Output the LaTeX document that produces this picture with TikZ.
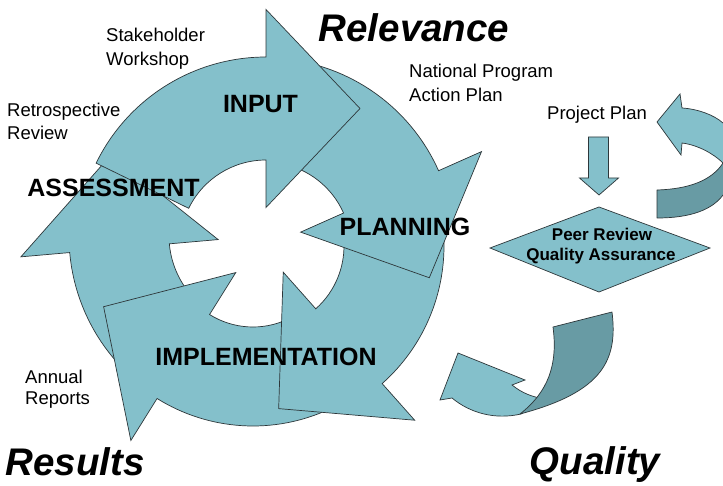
\documentclass[tikz,border=0pt]{standalone}
\usepackage{fontspec}
\setmainfont{Liberation Sans}
\definecolor{tealA}{RGB}{132,192,203}
\definecolor{tealB}{RGB}{104,155,164}
\definecolor{edgeC}{RGB}{45,55,58}
\tikzset{
  ring/.style={fill=tealA, draw=edgeC, line width=0.7pt, line join=miter},
  shade3d/.style={fill=tealB, draw=edgeC, line width=0.7pt, line join=round},
  bigword/.style={font=\fontsize{38.5}{40}\selectfont\bfseries\itshape, inner sep=0pt, anchor=base},
  phase/.style={font=\fontsize{25}{27}\selectfont\bfseries, inner sep=0pt, anchor=base},
  note/.style={font=\fontsize{18.5}{23}\selectfont, inner sep=0pt, anchor=base west},
  dtext/.style={font=\fontsize{17}{20}\selectfont\bfseries, inner sep=0pt, anchor=base}
}
% #1,#2 centre (image px), #3 inner r, #4 outer r, #5 tail angle, #6 head angle (clockwise on screen)
\newcommand\cycarrow[6]{%
  \pgfmathsetmacro\rmid{(#3+#4)/2}%
  \pgfmathsetmacro\rtip{veclen(\rmid,94)}%
  \pgfmathsetmacro\atip{-((#6)+atan(94/\rmid))}%
  \pgfmathsetmacro\wext{(198-(#4-#3))/2}%
  \pgfmathsetmacro\rin{#3-\wext}%
  \pgfmathsetmacro\rout{#4+\wext}%
  \pgfmathsetmacro\at{-(#5)}%
  \pgfmathsetmacro\ah{-(#6)}%
  \path[ring,shift={(#1,#2)}] (\at:#4pt) arc[start angle=\at,end angle=\ah,radius=#4pt]
    -- (\ah:\rout pt) -- (\atip:\rtip pt) -- (\ah:\rin pt) -- (\ah:#3pt)
    arc[start angle=\ah,end angle=\at,radius=#3pt] -- cycle;
}
\begin{document}
\begin{tikzpicture}[x=1pt,y=-1pt]
\useasboundingbox (0,0) rectangle (723,486);
\fill[white] (0,0) rectangle (723,486);
\begin{scope}
\clip (0,0) rectangle (723,486);
% cycle arrows (bottom-most first)
\cycarrow{259}{236}{90}{190}{135}{175}
\cycarrow{253}{245}{82}{181}{65}{122}
\cycarrow{260}{246}{84}{184}{-5}{48.4}
\cycarrow{265}{248}{86}{190}{-80}{-24}
\cycarrow{266}{246}{86}{189}{-154}{-90}
% top-right curved arrow
\path[shade3d] (657,190) .. controls (690,189) and (712,180) .. (723,163) -- (735,150) -- (735,200) -- (723,195) .. controls (712,210) and (690,218) .. (657,218) -- cycle;
\path[ring] (657,122) -- (680,94) -- (682,108) .. controls (698,109) and (714,115) .. (723,123) -- (735,130) -- (735,170) -- (723,163) .. controls (714,154) and (698,145) .. (682,143) -- (681,155) -- cycle;
% down block arrow
\path[ring] (588.5,137) -- (608.5,137) -- (608.5,178) -- (618.5,178) -- (599,195) -- (579.5,178) -- (588.5,178) -- cycle;
% diamond
\path[ring] (599,207) -- (710,248) -- (599,292) -- (490,248) -- cycle;
% bottom curved arrow
\path[ring] (440,400) -- (458,353) -- (525,380) -- (512,385) .. controls (522,393) and (532,397) .. (545,399) -- (521,414) .. controls (495,420) and (470,413) .. (452,398) -- cycle;
\path[shade3d] (553,327) -- (612,312) .. controls (618,360) and (603,392) .. (520,414) .. controls (548,392) and (558,365) .. (553,327) -- cycle;
\end{scope}
% titles
\node[bigword] (rel) at (414,41.7) {Relevance};
\node[bigword] (res) at (75,475) {Results};
\node[bigword] (qual) at (595,474) {Quality};
% phase labels
\node[phase] (input) at (260.5,113) {INPUT};
\node[phase] (assess) at (113.5,197) {ASSESSMENT};
\node[phase] (plan) at (405,236) {PLANNING};
\node[phase] (impl) at (266,366) {IMPLEMENTATION};
% notes
\node[note] (sh1) at (106,41.7) {Stakeholder};
\node[note] (sh2) at (106,66) {Workshop};
\node[note] (rr1) at (7,117) {Retrospective};
\node[note] (rr2) at (7,140) {Review};
\node[note] (np1) at (409,77.5) {National Program};
\node[note] (np2) at (409,101.5) {Action Plan};
\node[note] (pp) at (547,120) {Project Plan};
\node[note] (ar1) at (25,383) {Annual};
\node[note] (ar2) at (25,404.5) {Reports};
% diamond text
\node[dtext] (peer1) at (602,241) {Peer Review};
\node[dtext] (peer2) at (601,261) {Quality Assurance};
\end{tikzpicture}
\end{document}
